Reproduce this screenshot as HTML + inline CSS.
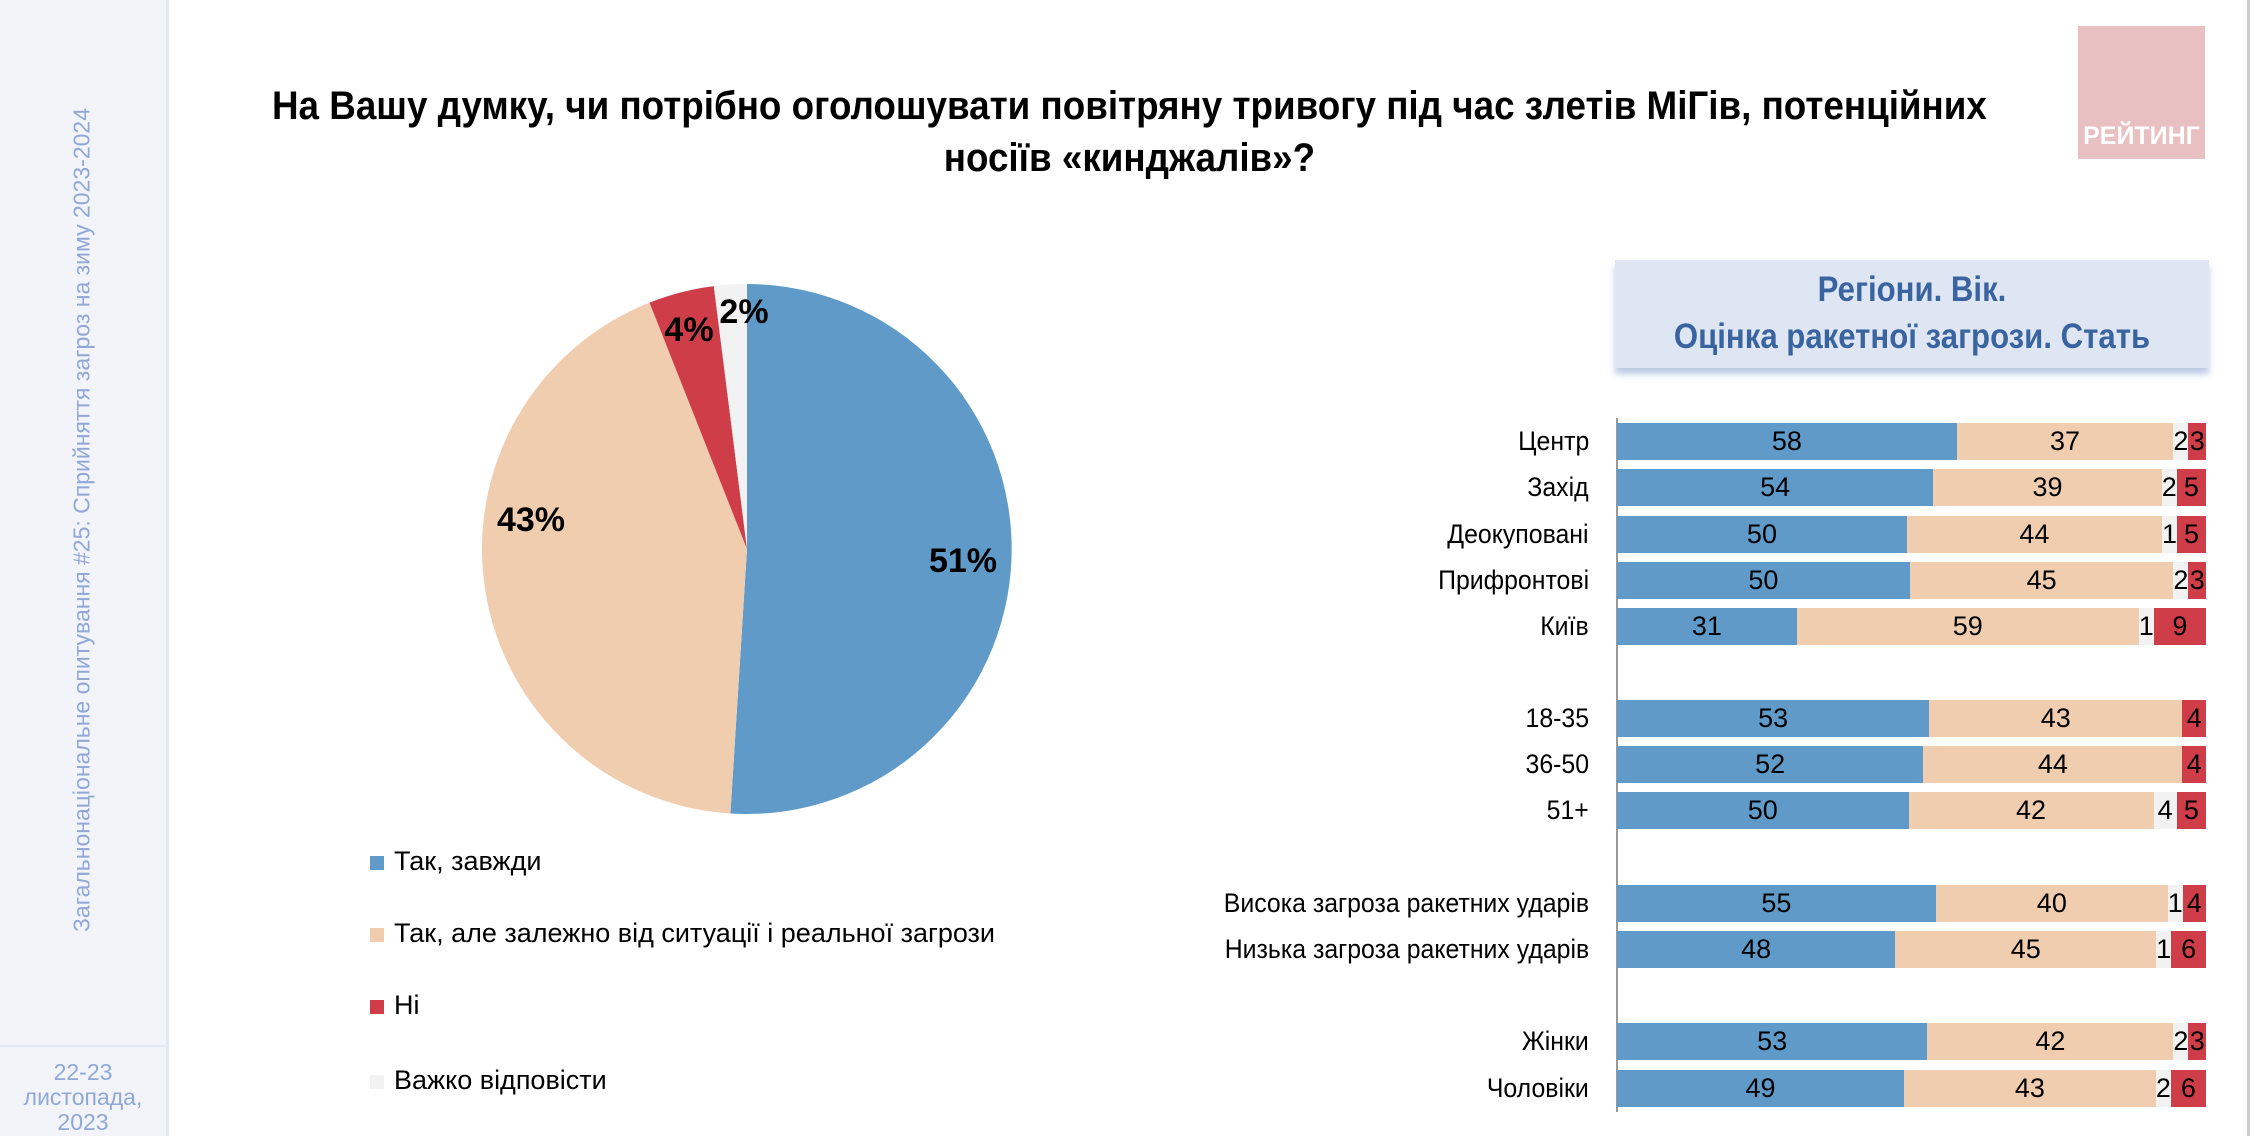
<!DOCTYPE html>
<html><head><meta charset="utf-8"><style>
body{margin:0;width:2261px;height:1136px;position:relative;background:#fff;font-family:"Liberation Sans",sans-serif;overflow:hidden}
.abs{position:absolute}
.side{left:0;top:0;width:166px;height:1136px;background:#f2f4f9;border-right:3px solid #e3e9f4}
.rot{left:82px;top:520px;transform:translate(-50%,-50%) rotate(-90deg);white-space:nowrap;color:#8fa8d8;font-size:23px}
.title{left:166px;width:1900px;top:80px;text-align:center;font-weight:bold;font-size:40px;line-height:52px;color:#000;transform:scaleX(0.92);transform-origin:1118px 0}
.legend{left:370px;font-size:27px;color:#000}
.legend i{display:inline-block;width:14px;height:14px;margin-right:10px;vertical-align:middle}
.row{left:1617px;width:589px;height:37px;display:flex;font-size:27px;line-height:37px}
.row div{text-align:center;overflow:visible;white-space:nowrap}
.b{background:#5f9ac8}.p{background:#f1cdb0}.g{background:#f2f2f2}.r{background:#cf3d48}
.lab{right:672px;font-size:27px;line-height:37px;text-align:right;white-space:nowrap;transform:scaleX(0.92);transform-origin:right center}
</style></head><body>
<div class="abs side"></div>
<div class="abs rot">Загальнонаціональне опитування #25: Сприйняття загроз на зиму 2023-2024</div>
<div class="abs" style="left:0;top:1045px;width:166px;border-top:2px solid #e3e9f4"></div>
<div class="abs" style="left:0;top:1060px;width:166px;text-align:center;color:#8fa8d8;font-size:23px;line-height:25px">22-23<br>листопада,<br>2023</div>
<div class="abs title">На Вашу думку, чи потрібно оголошувати повітряну тривогу під час злетів МіГів, потенційних<br>носіїв «кинджалів»?</div>
<div class="abs" style="left:2078px;top:26px;width:127px;height:133px;background:#e8c0c1"></div>
<div class="abs" style="left:2078px;top:122px;width:127px;text-align:center;color:#fff;font-weight:bold;font-size:25px">РЕЙТИНГ</div>
<div class="abs" style="left:2247px;top:0;width:3px;height:1136px;background:#ccc"></div>
<svg class="abs" style="left:0;top:0" width="2261" height="1136">
<path d="M747,549 L747,284 A265,265 0 1,1 730.4,813.5 Z" fill="#5f9ac8"/>
<path d="M747,549 L730.4,813.5 A265,265 0 0,1 649.5,302.6 Z" fill="#f1cdb0"/>
<path d="M747,549 L649.5,302.6 A265,265 0 0,1 713.8,286.1 Z" fill="#cf3d48"/>
<path d="M747,549 L713.8,286.1 A265,265 0 0,1 747,284 Z" fill="#f2f2f2"/>
<g font-family="Liberation Sans, sans-serif" font-weight="bold" font-size="34" text-anchor="middle">
<text x="963" y="572">51%</text><text x="531" y="531">43%</text><text x="689" y="341">4%</text><text x="744" y="323">2%</text></g>
<line x1="1617" y1="418" x2="1617" y2="1112" stroke="#999" stroke-width="2"/>
</svg>
<div class="abs legend" style="top:846px"><i style="background:#5f9ac8"></i>Так, завжди</div>
<div class="abs legend" style="top:918px"><i style="background:#f1cdb0"></i>Так, але залежно від ситуації і реальної загрози</div>
<div class="abs legend" style="top:990px"><i style="background:#cf3d48"></i>Ні</div>
<div class="abs legend" style="top:1065px"><i style="background:#f2f2f2"></i>Важко відповісти</div>
<div class="abs" style="left:1615px;top:260px;width:594px;height:108px;background:#dfe6f3;box-shadow:0 6px 6px rgba(120,150,200,.5)"></div>
<div class="abs" style="left:1615px;top:266px;width:594px;text-align:center;color:#3a64a0;font-weight:bold;font-size:35px;line-height:47px;transform:scaleX(0.89)">Регіони. Вік.<br>Оцінка ракетної загрози. Стать</div>

<div class="abs lab" style="top:423px">Центр</div>
<div class="abs row" style="top:423px"><div class="b" style="flex:58">58</div><div class="p" style="flex:37">37</div><div class="g" style="flex:2">2</div><div class="r" style="flex:3">3</div></div>
<div class="abs lab" style="top:469px">Захід</div>
<div class="abs row" style="top:469px"><div class="b" style="flex:54">54</div><div class="p" style="flex:39">39</div><div class="g" style="flex:2">2</div><div class="r" style="flex:5">5</div></div>
<div class="abs lab" style="top:516px">Деокуповані</div>
<div class="abs row" style="top:516px"><div class="b" style="flex:50">50</div><div class="p" style="flex:44">44</div><div class="g" style="flex:1">1</div><div class="r" style="flex:5">5</div></div>
<div class="abs lab" style="top:562px">Прифронтові</div>
<div class="abs row" style="top:562px"><div class="b" style="flex:50">50</div><div class="p" style="flex:45">45</div><div class="g" style="flex:2">2</div><div class="r" style="flex:3">3</div></div>
<div class="abs lab" style="top:608px">Київ</div>
<div class="abs row" style="top:608px"><div class="b" style="flex:31">31</div><div class="p" style="flex:59">59</div><div class="g" style="flex:1">1</div><div class="r" style="flex:9">9</div></div>

<div class="abs lab" style="top:700px">18-35</div>
<div class="abs row" style="top:700px"><div class="b" style="flex:53">53</div><div class="p" style="flex:43">43</div><div class="r" style="flex:4">4</div></div>
<div class="abs lab" style="top:746px">36-50</div>
<div class="abs row" style="top:746px"><div class="b" style="flex:52">52</div><div class="p" style="flex:44">44</div><div class="r" style="flex:4">4</div></div>
<div class="abs lab" style="top:792px">51+</div>
<div class="abs row" style="top:792px"><div class="b" style="flex:50">50</div><div class="p" style="flex:42">42</div><div class="g" style="flex:4">4</div><div class="r" style="flex:5">5</div></div>

<div class="abs lab" style="top:885px">Висока загроза ракетних ударів</div>
<div class="abs row" style="top:885px"><div class="b" style="flex:55">55</div><div class="p" style="flex:40">40</div><div class="g" style="flex:1">1</div><div class="r" style="flex:4">4</div></div>
<div class="abs lab" style="top:931px">Низька загроза ракетних ударів</div>
<div class="abs row" style="top:931px"><div class="b" style="flex:48">48</div><div class="p" style="flex:45">45</div><div class="g" style="flex:1">1</div><div class="r" style="flex:6">6</div></div>

<div class="abs lab" style="top:1023px">Жінки</div>
<div class="abs row" style="top:1023px"><div class="b" style="flex:53">53</div><div class="p" style="flex:42">42</div><div class="g" style="flex:2">2</div><div class="r" style="flex:3">3</div></div>
<div class="abs lab" style="top:1070px">Чоловіки</div>
<div class="abs row" style="top:1070px"><div class="b" style="flex:49">49</div><div class="p" style="flex:43">43</div><div class="g" style="flex:2">2</div><div class="r" style="flex:6">6</div></div>
</body></html>
